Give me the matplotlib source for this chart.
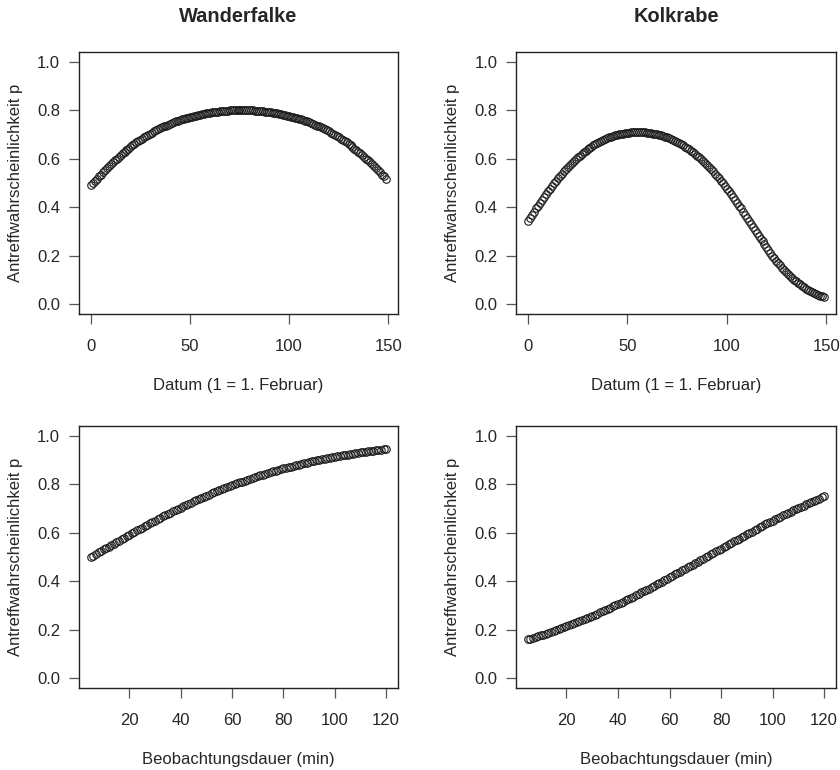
import numpy as np
import matplotlib
matplotlib.use("Agg")
import matplotlib.pyplot as plt

plt.rcParams['font.family'] = ['Liberation Sans', 'DejaVu Sans']

# Datum (Tag 0..149) und Beobachtungsdauer (5..120 min)
datum = np.arange(0, 150)
dauer = np.arange(5, 121)

wanderfalke_datum = [
    .490, .499, .509, .518, .527, .535, .544, .553, .561, .569,
    .577, .585, .593, .600, .608, .615, .622, .629, .635, .642,
    .648, .655, .661, .667, .672, .678, .683, .689, .694, .699,
    .704, .708, .713, .717, .721, .725, .729, .733, .737, .740,
    .744, .747, .750, .754, .757, .759, .762, .765, .767, .770,
    .772, .774, .776, .778, .780, .782, .784, .785, .787, .788,
    .790, .791, .792, .793, .794, .795, .796, .797, .798, .798,
    .799, .799, .799, .800, .800, .800, .800,
    .800, .800, .800, .799, .799, .799, .798, .798, .797, .796,
    .795, .794, .793, .792, .791, .790, .788, .787, .785, .784,
    .782, .780, .778, .776, .774, .772, .770, .767, .765, .762,
    .759, .757, .754, .750, .747, .744, .740, .737, .733, .729,
    .725, .721, .717, .713, .708, .704, .699, .694, .689, .683,
    .678, .672, .667, .661, .655, .648, .642, .635, .629, .622,
    .615, .608, .600, .593, .585, .577, .569, .561, .553, .544,
    .535, .527, .518]

kolkrabe_datum = [
    .345, .357, .370, .382, .395, .407, .419, .431, .443, .454,
    .466, .477, .488, .499, .509, .519, .529, .539, .548, .557,
    .566, .575, .583, .591, .599, .606, .613, .620, .627, .633,
    .639, .645, .650, .655, .660, .665, .669, .674, .678, .681,
    .685, .688, .691, .694, .696, .698, .701, .702, .704, .706,
    .707, .708, .709, .709, .710, .710,
    .710, .710, .709, .709, .708, .707, .706, .704, .702, .701,
    .698, .696, .694, .691, .688, .685, .681, .678, .674, .669,
    .665, .660, .655, .650, .645, .639, .633, .627, .620, .613,
    .606, .599, .591, .583, .575, .566, .557, .548, .539, .529,
    .519, .509, .499, .488, .477, .466, .454, .443, .431, .419,
    .407, .395, .382, .370, .357, .345, .332, .320, .308, .295,
    .283, .271, .259, .247, .235, .224, .212, .201, .191, .180,
    .170, .161, .151, .142, .133, .125, .117, .109, .102, .095,
    .088, .082, .076, .070, .065, .060, .055, .051, .047, .043,
    .040, .036, .033, .030]

wanderfalke_dauer = [
    .500, .506, .512, .519, .525, .531, .537, .543, .549, .555,
    .562, .568, .574, .580, .586, .592, .598, .604, .610, .615,
    .621, .627, .633, .639, .644, .650, .655, .661, .667, .672,
    .677, .683, .688, .693, .699, .704, .709, .714, .719, .724,
    .729, .734, .739, .743, .748, .753, .757, .762, .766, .771,
    .775, .779, .783, .788, .792, .796, .800, .804, .808, .811,
    .815, .819, .823, .826, .830, .833, .837, .840, .843, .846,
    .850, .853, .856, .859, .862, .865, .868, .870, .873, .876,
    .879, .881, .884, .886, .889, .891, .894, .896, .898, .900,
    .903, .905, .907, .909, .911, .913, .915, .917, .919, .920,
    .922, .924, .926, .927, .929, .931, .932, .934, .935, .937,
    .938, .940, .941, .942, .944, .945]

kolkrabe_dauer = [
    .160, .163, .167, .170, .173, .177, .180, .184, .188, .191,
    .195, .199, .203, .207, .210, .214, .219, .223, .227, .231,
    .235, .240, .244, .249, .253, .258, .262, .267, .272, .276,
    .281, .286, .291, .296, .301, .306, .311, .316, .322, .327,
    .332, .337, .343, .348, .354, .359, .365, .370, .376, .382,
    .387, .393, .399, .404, .410, .416, .422, .428, .434, .439,
    .445, .451, .457, .463, .469, .475, .481, .487, .493, .499,
    .505, .511, .517, .523, .529, .535, .541, .547, .553, .559,
    .565, .571, .576, .582, .588, .594, .600, .605, .611, .617,
    .622, .628, .634, .639, .645, .650, .656, .661, .666, .672,
    .677, .682, .687, .692, .697, .702, .708, .712, .717, .722,
    .727, .732, .736, .741, .746, .750]

titel = ['Wanderfalke', 'Kolkrabe']
ylabel = 'Antreffwahrscheinlichkeit p'
xlabel_datum = 'Datum (1 = 1. Februar)'
xlabel_dauer = 'Beobachtungsdauer (min)'

textfarbe = '#262626'

fig = plt.figure(figsize=(8.4, 7.7), dpi=100)
W, H = 840, 770


def achse(links, oben, rechts, unten):
    return fig.add_axes([links / W, 1 - unten / H, (rechts - links) / W, (unten - oben) / H])


panels = [
    (achse(79, 52, 398, 314), datum, wanderfalke_datum, xlabel_datum, [0, 50, 100, 150]),
    (achse(516, 52, 836, 314), datum, kolkrabe_datum, xlabel_datum, [0, 50, 100, 150]),
    (achse(79, 426, 398, 688), dauer, wanderfalke_dauer, xlabel_dauer, [20, 40, 60, 80, 100, 120]),
    (achse(516, 426, 836, 688), dauer, kolkrabe_dauer, xlabel_dauer, [20, 40, 60, 80, 100, 120]),
]

for i, (ax, x, y, xl, xt) in enumerate(panels):
    ax.plot(x, y, linestyle='none', marker='o', markersize=5.4,
            markerfacecolor='none', markeredgecolor='#1a1a1a', markeredgewidth=0.8)
    rng = x[-1] - x[0]
    ax.set_xlim(x[0] - 0.04 * rng, x[-1] + 0.04 * rng)
    ax.set_ylim(-0.04, 1.04)
    ax.set_xticks(xt)
    ax.set_yticks([0.0, 0.2, 0.4, 0.6, 0.8, 1.0])
    ax.set_yticklabels(['0.0', '0.2', '0.4', '0.6', '0.8', '1.0'])
    ax.tick_params(axis='x', length=7, width=0.9, color='#555555', pad=11,
                   labelsize=12, labelcolor=textfarbe)
    ax.tick_params(axis='y', length=7.5, width=0.9, color='#555555', pad=6,
                   labelsize=12, labelcolor=textfarbe)
    for s in ax.spines.values():
        s.set_color('#222222')
        s.set_linewidth(1.0)
    ax.text(0.5, -71.5 / 262, xl, transform=ax.transAxes, ha='center', va='center',
            fontsize=12, color=textfarbe)
    ax.text(-64 / 320, 0.5, ylabel, transform=ax.transAxes, ha='center', va='center',
            rotation=90, fontsize=12, color=textfarbe)
    if i < 2:
        ax.text(0.5, 1 + 36 / 262, titel[i], transform=ax.transAxes, ha='center',
                va='center', fontsize=14.4, fontweight='bold', color=textfarbe)

fig.savefig('out.png', dpi=100)
